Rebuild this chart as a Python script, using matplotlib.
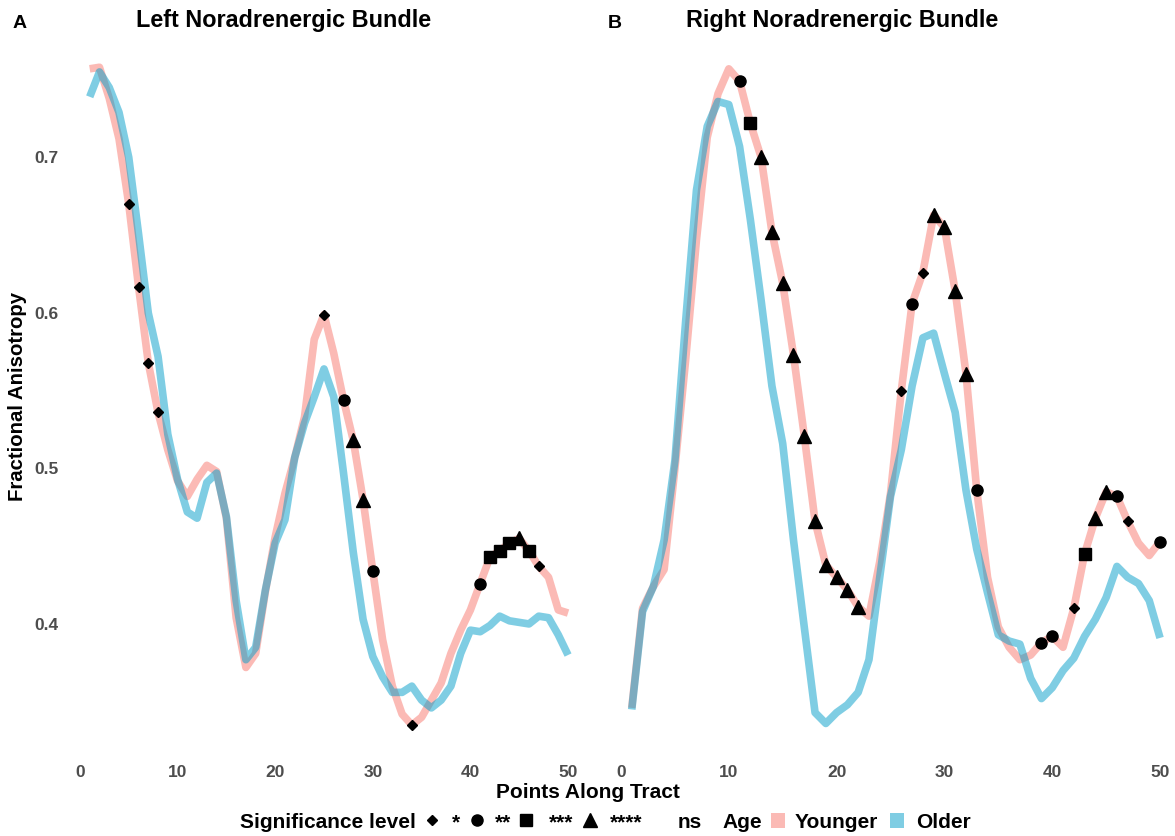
import numpy as np
import matplotlib
matplotlib.use("Agg")
import matplotlib.pyplot as plt
from matplotlib.lines import Line2D
from matplotlib.patches import Patch

plt.rcParams['font.family'] = ['Liberation Sans', 'DejaVu Sans']
plt.rcParams['font.weight'] = 'bold'

points = np.arange(1, 51)

# left bundle
left_younger = [0.757, 0.758, 0.738, 0.712, 0.670, 0.617, 0.568, 0.536, 0.512, 0.492,
                0.482, 0.493, 0.502, 0.498, 0.468, 0.404, 0.372, 0.381, 0.421, 0.456,
                0.484, 0.507, 0.533, 0.583, 0.599, 0.574, 0.544, 0.518, 0.480, 0.434,
                0.390, 0.360, 0.342, 0.335, 0.340, 0.351, 0.362, 0.381, 0.396, 0.409,
                0.426, 0.443, 0.447, 0.452, 0.455, 0.447, 0.437, 0.430, 0.409, 0.407]
left_older = [0.739, 0.755, 0.745, 0.729, 0.700, 0.651, 0.600, 0.572, 0.522, 0.493,
              0.472, 0.468, 0.491, 0.497, 0.469, 0.415, 0.377, 0.385, 0.422, 0.452,
              0.467, 0.507, 0.529, 0.546, 0.564, 0.546, 0.497, 0.446, 0.403, 0.379,
              0.366, 0.356, 0.356, 0.360, 0.351, 0.346, 0.351, 0.360, 0.381, 0.396,
              0.395, 0.399, 0.405, 0.402, 0.401, 0.400, 0.405, 0.404, 0.393, 0.380]
left_sig_points = [5, 6, 7, 8, 25, 27, 28, 29, 30, 34, 41, 42, 43, 44, 45, 46, 47]
left_sig_levels = ['*', '*', '*', '*', '*', '**', '****', '****', '**', '*',
                   '**', '***', '***', '***', '****', '***', '*']

# right bundle
right_younger = [0.346, 0.410, 0.424, 0.435, 0.500, 0.570, 0.647, 0.713, 0.741, 0.757,
                 0.749, 0.722, 0.700, 0.652, 0.619, 0.573, 0.521, 0.466, 0.438, 0.430,
                 0.422, 0.411, 0.405, 0.440, 0.484, 0.550, 0.606, 0.626, 0.663, 0.655,
                 0.614, 0.561, 0.486, 0.430, 0.398, 0.385, 0.377, 0.380, 0.388, 0.392,
                 0.385, 0.410, 0.445, 0.468, 0.485, 0.482, 0.466, 0.452, 0.444, 0.453]
right_older = [0.345, 0.408, 0.424, 0.454, 0.505, 0.595, 0.679, 0.720, 0.736, 0.734,
               0.707, 0.660, 0.608, 0.553, 0.516, 0.454, 0.398, 0.343, 0.336, 0.343,
               0.348, 0.356, 0.377, 0.430, 0.482, 0.512, 0.553, 0.584, 0.587, 0.561,
               0.536, 0.486, 0.448, 0.420, 0.393, 0.389, 0.387, 0.365, 0.352, 0.359,
               0.370, 0.378, 0.392, 0.403, 0.417, 0.437, 0.430, 0.426, 0.415, 0.391]
right_sig_points = [11, 12, 13, 14, 15, 16, 17, 18, 19, 20, 21, 22, 26, 27, 28, 29, 30,
                    31, 32, 33, 39, 40, 42, 43, 44, 45, 46, 47, 50]
right_sig_levels = ['**', '***', '****', '****', '****', '****', '****', '****', '****',
                    '****', '****', '****', '*', '**', '*', '****', '****', '****',
                    '****', '**', '**', '**', '*', '***', '****', '****', '**', '*', '**']

level_marker = {'*': ('D', 5.5), '**': ('o', 8), '***': ('s', 8.5), '****': ('^', 10)}

pink = '#F8766D'
blue = '#009DC9'
tick_gray = '#4D4D4D'
W, H = 1175, 836

fig = plt.figure(figsize=(11.75, 8.36), dpi=100)
axL = fig.add_axes([0.056, 0.0937, 0.4478, 0.8649])
axR = fig.add_axes([0.5152, 0.0937, 0.4840, 0.8649])


def draw_panel(ax, younger, older, sig_points, sig_levels):
    ax.plot(points, younger, color=pink, alpha=0.5, lw=5.5, solid_capstyle='butt')
    ax.plot(points, older, color=blue, alpha=0.5, lw=5.5, solid_capstyle='butt')
    yv = np.array(younger)
    for lvl, (m, s) in level_marker.items():
        pts = [p for p, l in zip(sig_points, sig_levels) if l == lvl]
        if pts:
            ax.plot(pts, yv[np.array(pts) - 1], linestyle='none', marker=m,
                    markersize=s, color='black', zorder=5)
    ax.set_ylim(0.314, 0.779)
    ax.set_xticks([0, 10, 20, 30, 40, 50])
    ax.set_yticks([0.4, 0.5, 0.6, 0.7])
    ax.tick_params(length=0, labelsize=12.5, labelcolor=tick_gray, pad=5)
    for sp in ax.spines.values():
        sp.set_visible(False)


draw_panel(axL, left_younger, left_older, left_sig_points, left_sig_levels)
draw_panel(axR, right_younger, right_older, right_sig_points, right_sig_levels)
axL.set_xlim(-1.45, 52.45)
axR.set_xlim(-1.45, 51.3)
axR.set_yticklabels([])

fig.text(13 / W, 1 - 23 / H, 'A', fontsize=14, fontweight='bold', va='center')
fig.text(608 / W, 1 - 23 / H, 'B', fontsize=14, fontweight='bold', va='center')
fig.text(284 / W, 1 - 21 / H, 'Left Noradrenergic Bundle', fontsize=16.8,
         fontweight='bold', ha='center', va='center')
fig.text(842 / W, 1 - 21 / H, 'Right Noradrenergic Bundle', fontsize=16.8,
         fontweight='bold', ha='center', va='center')
fig.text(18 / W, 1 - 396 / H, 'Fractional Anisotropy', fontsize=14.7,
         fontweight='bold', rotation=90, ha='center', va='center')
fig.text(588 / W, 1 - 792 / H, 'Points Along Tract', fontsize=15,
         fontweight='bold', ha='center', va='center')

# legends along the bottom
fs = 15
fs_px = fs * 100 / 72
ly = 1 - 822 / H
prop = {'size': fs, 'weight': 'bold'}


def key(handle, label, x_center, hl=1.0, pad_px=20):
    left = x_center - hl * fs_px / 2
    fig.legend([handle], [label], loc='center left', bbox_to_anchor=(left / W, ly),
               frameon=False, handlelength=hl, handleheight=hl,
               handletextpad=(pad_px - hl * fs_px / 2) / fs_px,
               borderpad=0, borderaxespad=0, prop=prop)


fig.text(240 / W, ly, 'Significance level', fontsize=fs, fontweight='bold',
         ha='left', va='center')
key(Line2D([], [], linestyle='none', marker='D', markersize=5.5, color='black'), '*', 432)
key(Line2D([], [], linestyle='none', marker='o', markersize=8, color='black'), '**', 477, pad_px=18)
key(Line2D([], [], linestyle='none', marker='s', markersize=8, color='black'), '***', 526, pad_px=23)
key(Line2D([], [], linestyle='none', marker='^', markersize=10, color='black'), '****', 590)
fig.text(678 / W, ly, 'ns', fontsize=fs, fontweight='bold', ha='left', va='center')

fig.text(722 / W, ly, 'Age', fontsize=fs, fontweight='bold', ha='left', va='center')
key(Patch(facecolor=pink, alpha=0.5, edgecolor='none'), 'Younger', 778, hl=0.7, pad_px=17)
key(Patch(facecolor=blue, alpha=0.5, edgecolor='none'), 'Older', 897, hl=0.7, pad_px=19)

fig.savefig('out.png', dpi=100)
